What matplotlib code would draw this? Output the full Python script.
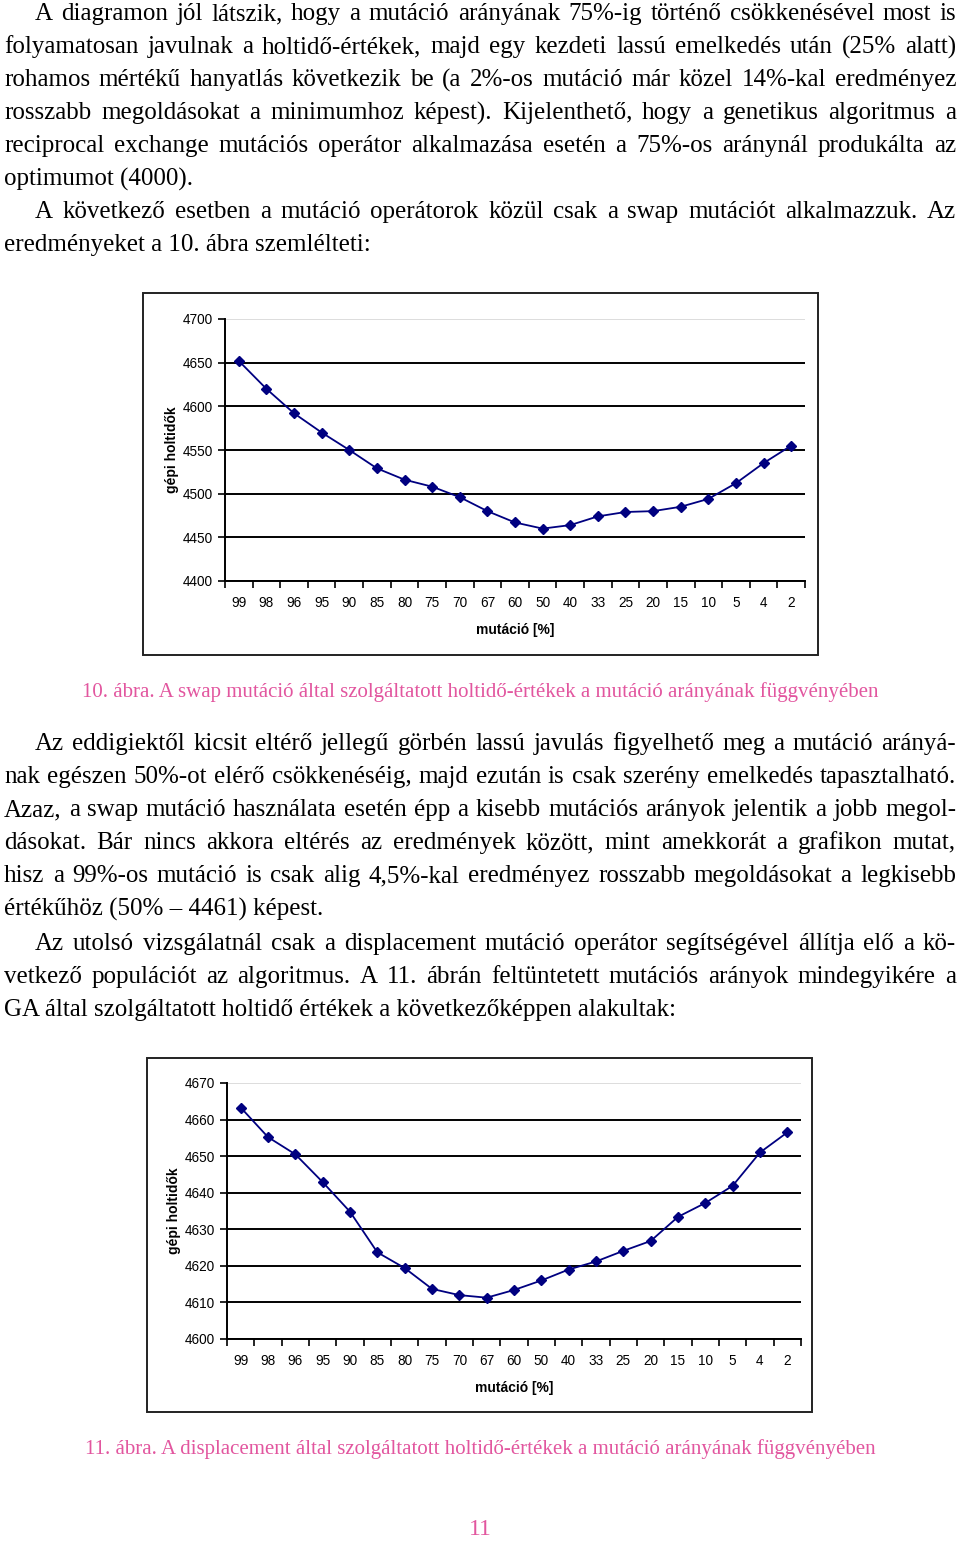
import numpy as np
import matplotlib
matplotlib.use('Agg')
import matplotlib.pyplot as plt
from matplotlib.patches import Rectangle

# %% data
categories = ['99', '98', '96', '95', '90', '85', '80', '75', '70', '67', '60',
              '50', '40', '33', '25', '20', '15', '10', '5', '4', '2']
swap_values = [4652, 4620, 4592, 4570, 4550, 4529, 4516, 4508, 4496, 4480, 4467,
               4460, 4464, 4474, 4479, 4480, 4485, 4494, 4512, 4535, 4555]
displacement_values = [4663.3, 4655.2, 4650.5, 4642.9, 4634.8, 4623.7, 4619.4,
                       4613.7, 4612.0, 4611.3, 4613.4, 4616.0, 4619.0, 4621.2,
                       4624.1, 4626.8, 4633.4, 4637.2, 4641.9, 4651.0, 4656.5]
swap_ticks = [4400, 4450, 4500, 4550, 4600, 4650, 4700]
disp_ticks = [4600, 4610, 4620, 4630, 4640, 4650, 4660, 4670]

para1 = [
    "A diagramon jól látszik, hogy a mutáció arányának 75%-ig történő csökkenésével most is",
    "folyamatosan javulnak a holtidő-értékek, majd egy kezdeti lassú emelkedés után (25% alatt)",
    "rohamos mértékű hanyatlás következik be (a 2%-os mutáció már közel 14%-kal eredményez",
    "rosszabb megoldásokat a minimumhoz képest). Kijelenthető, hogy a genetikus algoritmus a",
    "reciprocal exchange mutációs operátor alkalmazása esetén a 75%-os aránynál produkálta az",
    "optimumot (4000).",
]
para2 = [
    "A következő esetben a mutáció operátorok közül csak a swap mutációt alkalmazzuk. Az",
    "eredményeket a 10. ábra szemlélteti:",
]
para3 = [
    "Az eddigiektől kicsit eltérő jellegű görbén lassú javulás figyelhető meg a mutáció arányá-",
    "nak egészen 50%-ot elérő csökkenéséig, majd ezután is csak szerény emelkedés tapasztalható.",
    "Azaz, a swap mutáció használata esetén épp a kisebb mutációs arányok jelentik a jobb megol-",
    "dásokat. Bár nincs akkora eltérés az eredmények között, mint amekkorát a grafikon mutat,",
    "hisz a 99%-os mutáció is csak alig 4,5%-kal eredményez rosszabb megoldásokat a legkisebb",
    "értékűhöz (50% – 4461) képest.",
]
para4 = [
    "Az utolsó vizsgálatnál csak a displacement mutáció operátor segítségével állítja elő a kö-",
    "vetkező populációt az algoritmus. A 11. ábrán feltüntetett mutációs arányok mindegyikére a",
    "GA által szolgáltatott holtidő értékek a következőképpen alakultak:",
]
caption1 = "10. ábra. A swap mutáció által szolgáltatott holtidő-értékek a mutáció arányának függvényében"
caption2 = "11. ábra. A displacement által szolgáltatott holtidő-értékek a mutáció arányának függvényében"

# %% page setup (pixel helpers)
W, H = 960, 1541
fig = plt.figure(figsize=(W / 100, H / 100), dpi=100)
renderer = fig.canvas.get_renderer()
PINK = '#e2569f'
body = dict(family='Liberation Serif', size=18, color='black')


def fx(px):
    return px / W


def fy(py):
    return 1 - py / H


def put_line(text, y, x0, justify, x1=956):
    words = text.split(' ')
    if not justify or len(words) < 2:
        fig.text(fx(x0), fy(y), text, va='baseline', ha='left', **body)
        return
    objs = [fig.text(0, fy(y), w, va='baseline', ha='left', **body) for w in words]
    widths = [o.get_window_extent(renderer).width for o in objs]
    gap = (x1 - x0 - sum(widths)) / (len(words) - 1)
    x = x0
    for o, w in zip(objs, widths):
        o.set_x(fx(x))
        x += w + gap


def put_paragraph(lines, y0, step=33.1):
    for i, line in enumerate(lines):
        last = i == len(lines) - 1
        put_line(line, y0 + i * step, 35 if i == 0 else 4, not last)


put_paragraph(para1, 20)
put_paragraph(para2, 218)
put_paragraph(para3, 750)
put_paragraph(para4, 950)


# %% charts
def chart(box, axbox, values, ticks):
    l, t, r, b = box
    fig.add_artist(Rectangle((fx(l), fy(b)), fx(r - l), (b - t) / H,
                             transform=fig.transFigure, fill=False,
                             edgecolor='#222222', lw=1.4))
    al, at, ar, ab = axbox
    ax = fig.add_axes([fx(al), fy(ab), fx(ar - al), (ab - at) / H])
    x = np.arange(len(categories))
    ax.plot(x, values, color='#000080', lw=1.3, marker='D', markersize=5.5,
            zorder=3)
    ax.set_xlim(-0.5, len(categories) - 0.5)
    ax.set_ylim(ticks[0], ticks[-1])
    ax.set_yticks(ticks)
    ax.yaxis.grid(True, color='black', lw=1.4)
    ax.get_ygridlines()[-1].set_color('#dddddd')
    ax.set_xticks(np.arange(-0.5, len(categories), 1))
    ax.set_xticklabels([])
    ax.set_xticks(x, minor=True)
    ax.set_xticklabels(categories, minor=True)
    ax.tick_params(axis='x', which='minor', length=0, pad=11)
    ax.tick_params(axis='both', which='major', length=5, width=1.2,
                   direction='out', color='black')
    for lab in ax.get_xticklabels(minor=True) + ax.get_yticklabels():
        lab.set_fontfamily('Liberation Sans')
        lab.set_fontsize(9.8)
    for s in ('top', 'right'):
        ax.spines[s].set_visible(False)
    for s in ('left', 'bottom'):
        ax.spines[s].set_linewidth(1.4)
    ax.set_axisbelow(True)
    ax.set_xlabel('mutáció [%]', family='Liberation Sans', fontsize=10,
                  fontweight='bold', labelpad=9)
    ax.set_ylabel('gépi holtidők', family='Liberation Sans', fontsize=10,
                  fontweight='bold', labelpad=3)
    return ax


chart((143, 293, 818, 655), (225, 319, 805, 581), swap_values, swap_ticks)
chart((147, 1058, 812, 1412), (227, 1083, 801, 1339), displacement_values, disp_ticks)

fig.text(0.5, fy(697), caption1, ha='center', va='baseline',
         family='Liberation Serif', size=15, color=PINK)
fig.text(0.5, fy(1454), caption2, ha='center', va='baseline',
         family='Liberation Serif', size=15, color=PINK)
fig.text(0.5, fy(1535), '11', ha='center', va='baseline',
         family='Liberation Serif', size=17, color=PINK)

fig.savefig('out.png', dpi=100)
